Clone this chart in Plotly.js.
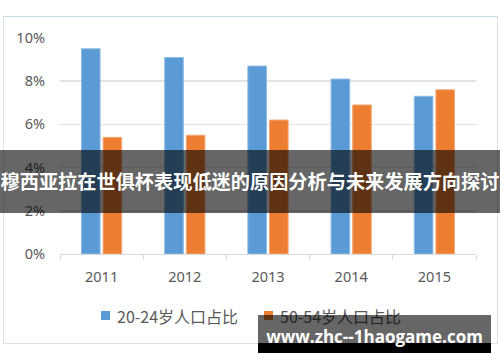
<!DOCTYPE html>
<html>
<head>
<meta charset="utf-8">
<script src="https://cdn.plot.ly/plotly-3.0.1.min.js"></script>
<style>
  html, body { margin:0; padding:0; background:#fff; }
  #wrap { position:relative; width:500px; height:362px; overflow:hidden; }
  #chart { position:absolute; left:0; top:0; width:500px; height:362px; }
  #frame { position:absolute; left:3px; top:16px; width:493px; height:326px;
           border:1px solid #dde3e8; border-top-color:#c9dce8; pointer-events:none; }
  #band { position:absolute; left:0; top:150px; width:500px; height:63px;
          background:rgba(0,0,0,0.6); }
  #bandt { position:absolute; left:0; top:150px; width:500px; height:63px; color:#fff;
           font-family:"Noto Sans CJK SC",sans-serif;
           font-weight:bold; font-size:19.2px; line-height:63px; text-align:center; white-space:nowrap; }
  #wm1 { position:absolute; left:258px; top:315px; width:233px; height:28px; background:rgba(0,0,0,0.6); }
  #wm2 { position:absolute; left:258px; top:343px; width:233px; height:10px; background:#000; }
  #wmt { position:absolute; left:258px; top:323px; width:233px; height:28px; color:#fff;
         font-family:"Open Sans","Noto Sans",sans-serif; font-weight:bold; font-size:17px; line-height:28px;
         text-align:center; white-space:nowrap; }
</style>
</head>
<body>
<div id="wrap">
  <div id="chart"></div>
  <div id="frame"></div>
  <div id="band"></div>
  <div id="bandt">穆西亚拉在世俱杯表现低迷的原因分析与未来发展方向探讨</div>
  <div id="wm1"></div>
  <div id="wm2"></div>
  <div id="wmt">www.zhc--1haogame.com</div>
</div>
<script>
const years = ["2011", "2012", "2013", "2014", "2015"];
const share2024 = [9.5, 9.1, 8.7, 8.1, 7.3];
const share5054 = [5.4, 5.5, 6.2, 6.9, 7.6];
const seriesNames = ["20-24岁人口占比", "50-54岁人口占比"];
const seriesColors = ["#5b9bd5", "#ed7d31"];
const yTickVals = [0, 2, 4, 6, 8, 10];
const yTickText = ["0%", "2%", "4%", "6%", "8%", "10%"];

const font = { family: "Noto Sans, Noto Sans CJK SC, sans-serif", color: "#595959", size: 14 };

const traces = [
  { type: "bar", x: years, y: share2024, name: seriesNames[0],
    marker: { color: seriesColors[0], line: { color: "#8dbbe4", width: 1 } } },
  { type: "bar", x: years, y: share5054, name: seriesNames[1],
    marker: { color: seriesColors[1], line: { color: "#f4a878", width: 1 } } }
];

// custom legend (paper coordinates): squares + labels
const legX = [0.0986, 0.4904];
const shapes = legX.map((x0, i) => ({
  type: "rect", xref: "paper", yref: "paper", x0: x0, x1: x0 + 0.0216,
  y0: -0.3056, y1: -0.2639, fillcolor: seriesColors[i], line: { width: 0 }
}));
const annotations = legX.map((x0, i) => ({
  xref: "paper", yref: "paper", x: x0 + 0.0336, y: -0.287, xanchor: "left", yanchor: "middle",
  text: seriesNames[i], showarrow: false,
  font: { family: "Noto Sans CJK SC, Noto Sans, sans-serif", size: 16, color: "#595959" }
}));

const layout = {
  width: 500, height: 362,
  margin: { l: 60, r: 24, t: 38, b: 108 },
  paper_bgcolor: "#fff", plot_bgcolor: "#fff",
  barmode: "group", bargap: 0.48, bargroupgap: 0.14,
  font: font,
  showlegend: false,
  shapes: shapes,
  annotations: annotations,
  xaxis: { type: "category", tickson: "boundaries", ticks: "outside", ticklen: 5,
           tickcolor: "#d9d9d9", showline: true, linecolor: "#d9d9d9", linewidth: 1,
           showgrid: false, zeroline: false, tickfont: { size: 14.5, color: "#595959" },
           ticklabelstandoff: 10 },
  yaxis: { range: [0, 10], tickvals: yTickVals, ticktext: yTickText, showgrid: true,
           gridcolor: "#e3e3e3", gridwidth: 1.5, zeroline: false, showline: false,
           ticks: "", tickfont: { size: 14.5, color: "#595959" }, ticklabelstandoff: 14 }
};

Plotly.newPlot("chart", traces, layout, { displayModeBar: false, staticPlot: true });
</script>
</body>
</html>
